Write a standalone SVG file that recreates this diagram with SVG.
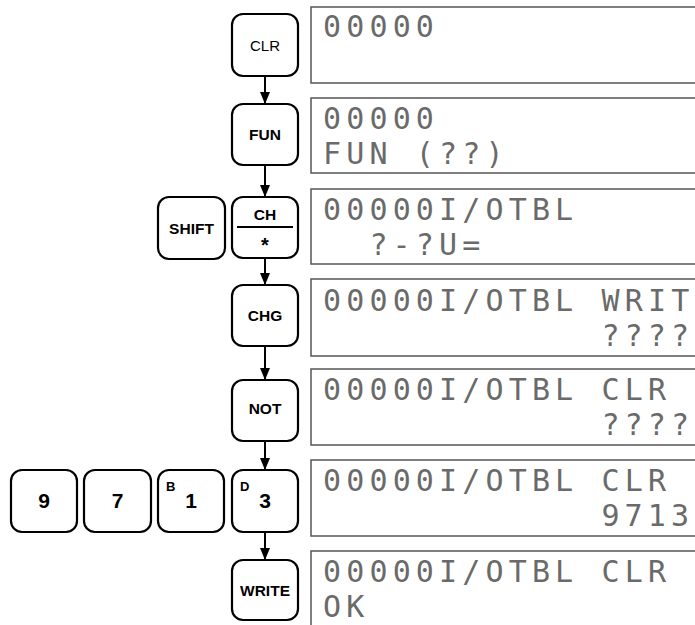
<svg xmlns="http://www.w3.org/2000/svg" width="695" height="625" viewBox="0 0 695 625">
<style>
.key{fill:#fff;stroke:#000;stroke-width:2.2}
.box{fill:#fff;stroke:#555;stroke-width:1.5}
.kl{font-family:"Liberation Sans",Arial,sans-serif;font-weight:bold;font-size:15.5px;text-anchor:middle;fill:#000}
.kr{font-family:"Liberation Sans",Arial,sans-serif;font-size:15px;text-anchor:middle;fill:#000}
.star{font-family:"Liberation Sans",Arial,sans-serif;font-weight:bold;font-size:20px;text-anchor:middle;fill:#000}
.num{font-family:"Liberation Sans",Arial,sans-serif;font-weight:bold;font-size:21px;text-anchor:middle;fill:#000}
.sup{font-family:"Liberation Sans",Arial,sans-serif;font-weight:bold;font-size:13px;fill:#000}
.lcd{font-family:"DejaVu Sans Mono",monospace;font-size:30px;letter-spacing:5.15px;fill:#6a6a6a}
.conn{stroke:#000;stroke-width:2;fill:none}
</style>
<defs>
<marker id="arr" markerUnits="userSpaceOnUse" markerWidth="12" markerHeight="10" refX="12" refY="5" orient="auto" viewBox="0 0 12 10">
<path d="M0,0 L12,5 L0,10 Z" fill="#000"/>
</marker>
</defs>
<rect width="695" height="625" fill="#fff"/>

<g id="displays">
<g id="disp1"><rect class="box" x="311" y="7" width="400" height="76"/>
<text class="lcd" x="323" y="37">00000</text></g>
<g id="disp2"><rect class="box" x="311" y="98" width="400" height="75"/>
<text class="lcd" x="323" y="129">00000</text>
<text class="lcd" x="323" y="164">FUN (??)</text></g>
<g id="disp3"><rect class="box" x="311" y="189" width="400" height="75"/>
<text class="lcd" x="323" y="220">00000I/OTBL</text>
<text class="lcd" x="369.4" y="255">?-?U=</text></g>
<g id="disp4"><rect class="box" x="311" y="279" width="400" height="77"/>
<text class="lcd" x="323" y="311">00000I/OTBL WRIT</text>
<text class="lcd" x="601.4" y="346">????</text></g>
<g id="disp5"><rect class="box" x="311" y="369" width="400" height="76"/>
<text class="lcd" x="323" y="400">00000I/OTBL CLR</text>
<text class="lcd" x="601.4" y="435">????</text></g>
<g id="disp6"><rect class="box" x="311" y="460" width="400" height="76"/>
<text class="lcd" x="323" y="491">00000I/OTBL CLR</text>
<text class="lcd" x="601.4" y="526">9713</text></g>
<g id="disp7"><rect class="box" x="311" y="551" width="400" height="90"/>
<text class="lcd" x="323" y="582">00000I/OTBL CLR</text>
<text class="lcd" x="323" y="617">OK</text></g>
</g>

<g id="connectors">
<line class="conn" x1="265" y1="76" x2="265" y2="104" marker-end="url(#arr)"/>
<line class="conn" x1="265" y1="165" x2="265" y2="197" marker-end="url(#arr)"/>
<line class="conn" x1="265" y1="258" x2="265" y2="285" marker-end="url(#arr)"/>
<line class="conn" x1="265" y1="346" x2="265" y2="380" marker-end="url(#arr)"/>
<line class="conn" x1="265" y1="441" x2="265" y2="470" marker-end="url(#arr)"/>
<line class="conn" x1="265" y1="532" x2="265" y2="560" marker-end="url(#arr)"/>
</g>

<g id="key-clr"><rect class="key" x="232" y="14" width="66" height="62" rx="11"/>
<text class="kr" x="265" y="50.5">CLR</text></g>
<g id="key-fun"><rect class="key" x="232" y="104" width="66" height="61" rx="11"/>
<text class="kl" x="265" y="140">FUN</text></g>
<g id="key-shift"><rect class="key" x="158" y="197" width="67" height="62" rx="11"/>
<text class="kl" x="191.5" y="233.5">SHIFT</text></g>
<g id="key-ch"><rect class="key" x="232" y="197" width="66" height="61" rx="11"/>
<text class="kl" x="265" y="220">CH</text>
<line x1="237" y1="227" x2="293" y2="227" stroke="#000" stroke-width="2"/>
<text class="star" x="265" y="252">*</text></g>
<g id="key-chg"><rect class="key" x="232" y="285" width="66" height="61" rx="11"/>
<text class="kl" x="265" y="321">CHG</text></g>
<g id="key-not"><rect class="key" x="232" y="380" width="66" height="61" rx="11"/>
<text class="kl" x="265" y="413.5">NOT</text></g>
<g id="key-9"><rect class="key" x="11" y="470" width="66" height="62" rx="11"/>
<text class="num" x="44" y="508">9</text></g>
<g id="key-7"><rect class="key" x="84" y="470" width="67" height="62" rx="11"/>
<text class="num" x="117.5" y="508">7</text></g>
<g id="key-1"><rect class="key" x="158" y="470" width="66" height="62" rx="11"/>
<text class="sup" x="166" y="491">B</text>
<text class="num" x="191" y="508">1</text></g>
<g id="key-3"><rect class="key" x="232" y="470" width="66" height="62" rx="11"/>
<text class="sup" x="240" y="491">D</text>
<text class="num" x="265" y="508">3</text></g>
<g id="key-write"><rect class="key" x="232" y="560" width="66" height="60" rx="11"/>
<text class="kl" x="265" y="595.5">WRITE</text></g>
</svg>
